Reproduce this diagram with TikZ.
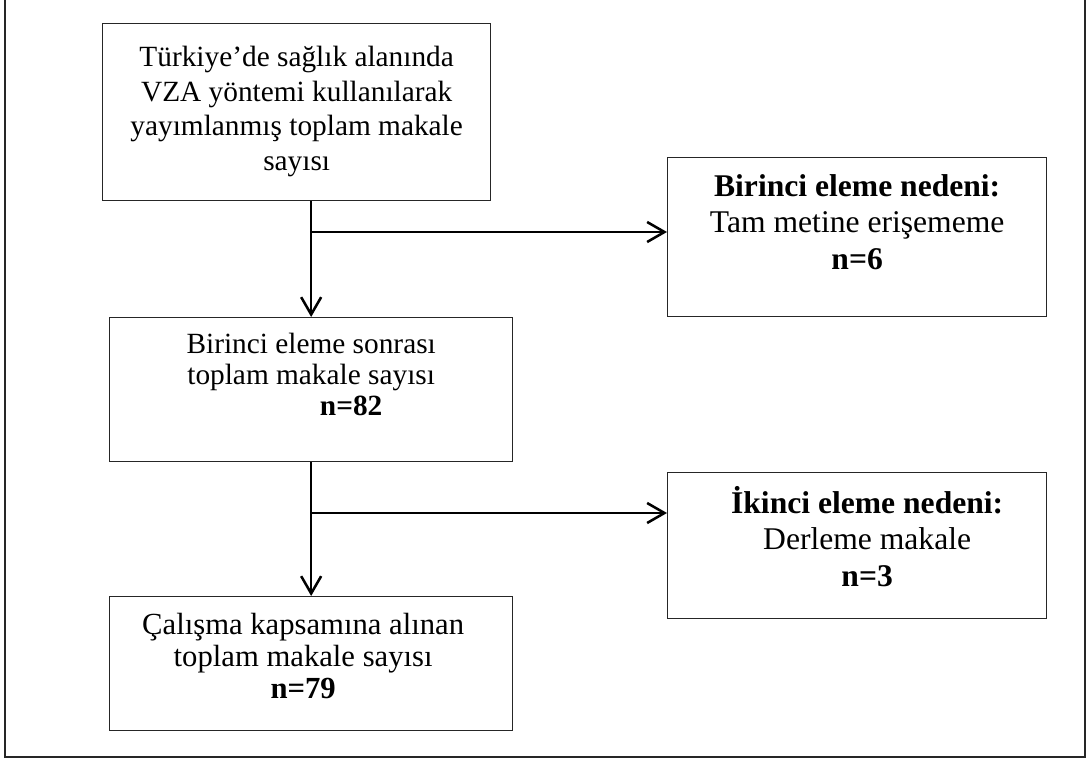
\documentclass[tikz,border=0pt]{standalone}
\usepackage{fontspec}
\setmainfont{Liberation Serif}
\usetikzlibrary{arrows.meta, positioning}

\tikzset{
  stage/.style={draw=black!85, line width=1pt, rectangle, inner sep=0pt, anchor=north west},
  stagetext/.style={anchor=north, align=center, inner sep=0pt},
  flow/.style={-{Straight Barb[length=13pt, width=15pt]}, line width=1.9pt},
}

\begin{document}
\begin{tikzpicture}[x=0.75pt, y=-0.75pt]

% page area
\useasboundingbox (0,0) rectangle (1086,760);
\clip (0,0) rectangle (1086,760);

% outer frame (open at the top)
\draw[line width=2.2pt, black!85] (5,-10) -- (5,757) -- (1085,757) -- (1085,-10);

% --- Boxes ---
\node[stage, minimum width=291pt, minimum height=132.75pt] (total) at (102,23) {};
\node[stage, minimum width=284.25pt, minimum height=119.25pt] (reason1) at (667,157) {};
\node[stage, minimum width=302.25pt, minimum height=108pt] (after1) at (109,317) {};
\node[stage, minimum width=284.25pt, minimum height=109.5pt] (reason2) at (667,472) {};
\node[stage, minimum width=302.25pt, minimum height=100.5pt] (final) at (109,596) {};

% --- Box texts ---
\node[stagetext, font=\fontsize{22}{26}\selectfont, below=17.25pt of total.north] (totaltext)
  {Türkiye’de sağlık alanında\\VZA yöntemi kullanılarak\\yayımlanmış toplam makale\\sayısı};
\node[stagetext, font=\fontsize{23.7}{27.4}\selectfont, below=12.75pt of reason1.north] (reason1text)
  {\textbf{Birinci eleme nedeni:}\\Tam metine erişememe\\\textbf{n=6}};
\node[stagetext, font=\fontsize{22}{23.3}\selectfont, below=12pt of after1.north] (after1text)
  {Birinci eleme sonrası\\toplam makale sayısı\\\hspace*{60pt}\textbf{n=82}};
\node[stagetext, font=\fontsize{23.7}{27.4}\selectfont, below=10.5pt of reason2.north, xshift=7.5pt] (reason2text)
  {\textbf{İkinci eleme nedeni:}\\Derleme makale\\\textbf{n=3}};
\node[stagetext, font=\fontsize{23}{24}\selectfont, below=12.5pt of final.north, xshift=-6pt] (finaltext)
  {Çalışma kapsamına alınan\\toplam makale sayısı\\\textbf{n=79}};

% --- Connectors ---
\coordinate (split1) at (310,232);
\coordinate (split2) at (310,513);
\draw[flow] (total.south -| after1.north) -- (after1.north);
\draw[flow] (split1) -- (split1 -| reason1.west);
\draw[flow] (after1.south) -- (final.north);
\draw[flow] (split2) -- (split2 -| reason2.west);

\end{tikzpicture}
\end{document}
